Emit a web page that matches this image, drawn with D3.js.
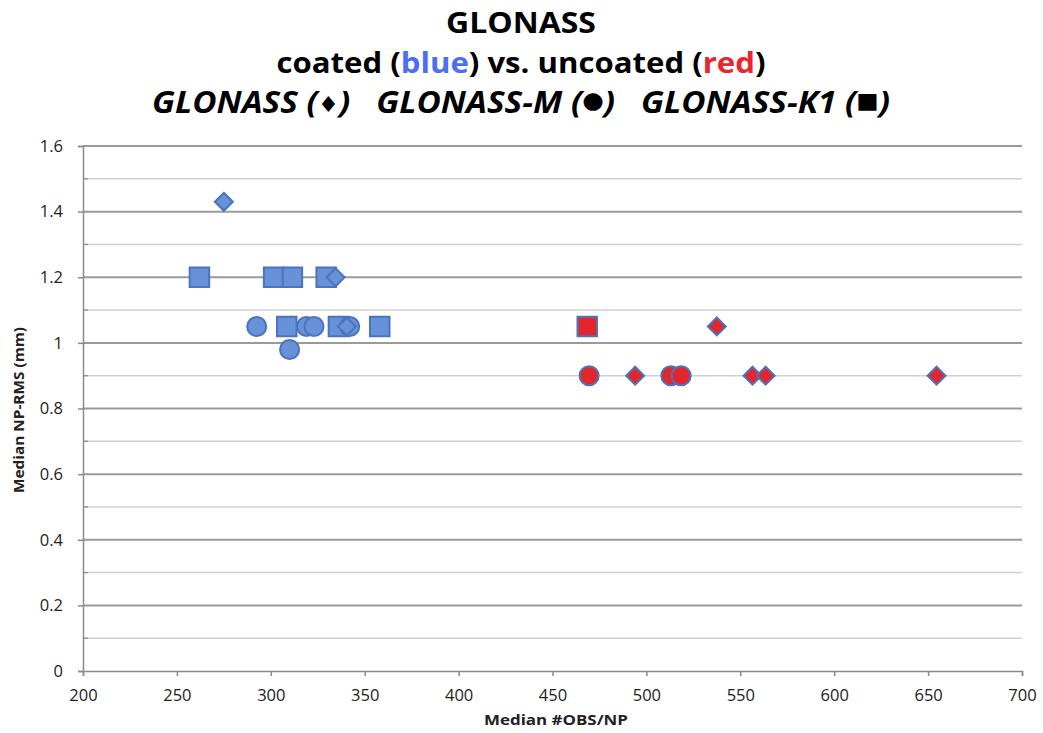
<!DOCTYPE html>
<html><head><meta charset="utf-8">
<script src="https://cdn.jsdelivr.net/npm/d3@7"></script>
<style>body{margin:0;background:#fff}svg{display:block}</style>
</head><body>
<svg id="c" width="1043" height="733"></svg>
<script>
// Data
const xTicks = [200,250,300,350,400,450,500,550,600,650,700];
const yTicks = [0,0.2,0.4,0.6,0.8,1,1.2,1.4,1.6];
const yMinor = [0.1,0.3,0.5,0.7,0.9,1.1,1.3,1.5];
// coated (blue)
const coatedGLONASS = [[275,1.43],[334.5,1.2],[340.5,1.05]];
const coatedM = [[292.5,1.05],[319,1.05],[323,1.05],[342,1.05],[310,0.98]];
const coatedK1 = [[262,1.2],[301.5,1.2],[311.5,1.2],[329.5,1.2],[308.5,1.05],[336,1.05],[358,1.05]];
// uncoated (red)
const uncoatedGLONASS = [[537.5,1.05],[494,0.9],[556.5,0.9],[563.5,0.9],[654.5,0.9]];
const uncoatedM = [[469.5,0.9],[513,0.9],[518.5,0.9]];
const uncoatedK1 = [[468.5,1.05]];

const svg = d3.select("#c");
const L=83, R=1022, T=146, B=671;
const x = d3.scaleLinear().domain([200,700]).range([L,R]);
const y = d3.scaleLinear().domain([0,1.6]).range([B,T]);
const font = "'Open Sans', 'DejaVu Sans', sans-serif";

// grid
svg.append("g").selectAll("line").data(yMinor).join("line")
  .attr("x1",L).attr("x2",R).attr("y1",d=>y(d)).attr("y2",d=>y(d))
  .attr("stroke","#d0d0d4").attr("stroke-width",1.5);
svg.append("g").selectAll("line").data(yTicks.filter(d=>d>0)).join("line")
  .attr("x1",L).attr("x2",R).attr("y1",d=>y(d)).attr("y2",d=>y(d))
  .attr("stroke","#9a9a9e").attr("stroke-width",2);

// axes
const yAxis = svg.append("g").attr("transform",`translate(${L},0)`)
  .call(d3.axisLeft(y).tickValues(yTicks).tickFormat(d=>d===0||d===1?d3.format("d")(d):d3.format(".1f")(d)).tickSize(5).tickPadding(15));
const xAxis = svg.append("g").attr("transform",`translate(0,${B})`)
  .call(d3.axisBottom(x).tickValues(xTicks).tickSize(5).tickPadding(13));
[xAxis,yAxis].forEach(a=>{
  a.select(".domain").attr("stroke","#8a8a8a").attr("stroke-width",1.5);
  a.selectAll(".tick line").attr("stroke","#8a8a8a").attr("stroke-width",1.5);
  a.selectAll(".tick text").attr("font-family",font).attr("font-size",16.5).attr("fill","#222");
});
// minor y ticks inward
svg.append("g").selectAll("line").data(yMinor).join("line")
  .attr("x1",L).attr("x2",L+5).attr("y1",d=>y(d)).attr("y2",d=>y(d))
  .attr("stroke","#8a8a8a").attr("stroke-width",1.2);

// axis titles
svg.append("text").attr("x",556).attr("y",725).attr("text-anchor","middle")
  .attr("font-family",font).attr("font-weight","bold").attr("font-size",15).attr("fill","#222")
  .attr("textLength",144).attr("lengthAdjust","spacingAndGlyphs")
  .text("Median #OBS/NP");
svg.append("text").attr("transform","translate(24,410) rotate(-90)").attr("text-anchor","middle")
  .attr("font-family",font).attr("font-weight","bold").attr("font-size",14.5).attr("fill","#222")
  .attr("textLength",166).attr("lengthAdjust","spacingAndGlyphs")
  .text("Median NP-RMS (mm)");

// titles
svg.append("text").attr("x",521).attr("y",33).attr("text-anchor","middle")
  .attr("font-family",font).attr("font-weight","bold").attr("font-size",28).attr("fill","#000")
  .attr("textLength",150).attr("lengthAdjust","spacingAndGlyphs").text("GLONASS");
const t2 = svg.append("text").attr("x",521).attr("y",73).attr("text-anchor","middle")
  .attr("font-family",font).attr("font-weight","bold").attr("font-size",28).attr("fill","#000")
  .attr("textLength",489).attr("lengthAdjust","spacingAndGlyphs");
t2.append("tspan").text("coated (");
t2.append("tspan").attr("fill","#4b6ef5").text("blue");
t2.append("tspan").text(") vs. uncoated (");
t2.append("tspan").attr("fill","#e8262c").text("red");
t2.append("tspan").text(")");
const t3 = svg.append("text").attr("x",521).attr("y",113).attr("text-anchor","middle")
  .attr("font-family",font).attr("font-weight","bold").attr("font-style","italic").attr("font-size",28).attr("fill","#000")
  .attr("xml:space","preserve");
t3.append("tspan").text("GLONASS (");
t3.append("tspan").attr("font-size",22).attr("font-family","'DejaVu Sans'").attr("font-style","normal").attr("dy",-1).text("\u2666");
t3.append("tspan").attr("dy",1).text(")   GLONASS-M (");
t3.append("tspan").attr("font-size",23).attr("font-family","'DejaVu Sans'").attr("font-style","normal").attr("dy",-5.5).text("\u25CF");
t3.append("tspan").attr("dy",5.5).text(")   GLONASS-K1 (");
t3.append("tspan").attr("font-size",22).attr("font-family","'DejaVu Sans'").attr("font-style","normal").attr("dy",-5).text("\u25A0");
t3.append("tspan").attr("dy",5).text(")");
const nat = t3.node().getComputedTextLength();
t3.attr("font-size", Math.min(31, 28*738/nat));
t3.attr("textLength",738).attr("lengthAdjust","spacingAndGlyphs");

// markers
const blueFill="#6791d8", stroke="#4a74bd", redFill="#e3262b";
const shapes = {
  d: d3.symbol().type(d3.symbolDiamond2).size(205),
  c: d3.symbol().type(d3.symbolCircle).size(285),
  s: d3.symbol().type(d3.symbolSquare).size(380)
};
function draw(data, shape, fill){
  svg.append("g").selectAll("path").data(data).join("path")
    .attr("transform",d=>`translate(${x(d[0])},${y(d[1])})`)
    .attr("d",shapes[shape]).attr("fill",fill).attr("stroke",stroke).attr("stroke-width",2);
}
draw(coatedK1,"s",blueFill);
draw(coatedM,"c",blueFill);
draw(coatedGLONASS,"d",blueFill);
draw(uncoatedK1,"s",redFill);
draw(uncoatedM,"c",redFill);
draw(uncoatedGLONASS,"d",redFill);
</script>
</body></html>
